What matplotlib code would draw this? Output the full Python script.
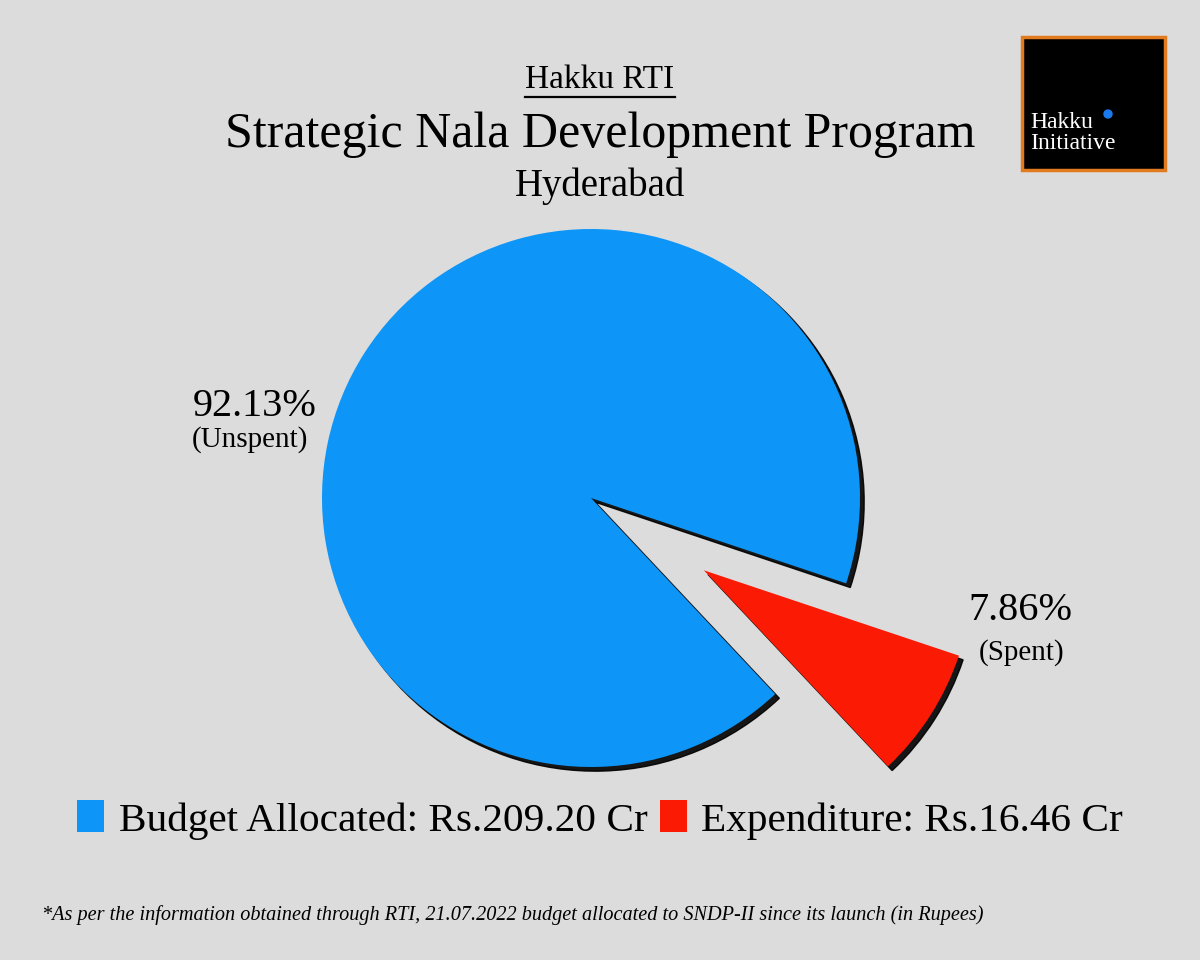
import matplotlib.pyplot as plt
from matplotlib.patches import Rectangle, Circle
from matplotlib.lines import Line2D

# Shares of the SNDP budget (percent) and legend amounts
shares = [92.13, 7.86]
share_notes = ["(Unspent)", "(Spent)"]
legend_labels = ["Budget Allocated: Rs.209.20 Cr", "Expenditure: Rs.16.46 Cr"]
colors = ["#0d95f7", "#fb1a04"]

plt.rcParams['font.family'] = ['Liberation Serif', 'DejaVu Serif']

fig = plt.figure(figsize=(12, 9.6), dpi=100)
fig.patch.set_facecolor("#dcdcdc")
ax = fig.add_axes([0, 0, 1, 1])
ax.set_facecolor("#dcdcdc")

# Pie drawn in pixel-like units (y up)
wedges, _ = ax.pie(shares, colors=colors, startangle=-18.5, counterclock=True,
                   explode=[0, 134], radius=269, center=(591, 462),
                   shadow={'ox': 3, 'oy': -3, 'shade': 1.0, 'alpha': 0.9})
ax.set_xlim(0, 1200)
ax.set_ylim(0, 960)
ax.set_aspect('equal')
ax.axis('off')

# Slice labels
ax.text(255, 960 - 407, f"{shares[0]:.2f}%", fontsize=29, ha='center', va='center')
ax.text(250, 960 - 440, share_notes[0], fontsize=21, ha='center', va='center')
ax.text(1020, 960 - 610, f"{shares[1]:.2f}%", fontsize=29, ha='center', va='center')
ax.text(1022, 960 - 653, share_notes[1], fontsize=21, ha='center', va='center')

# Titles
t = fig.text(0.5, 1 - 80 / 960, "Hakku RTI", fontsize=24, ha='center', va='center')
fig.text(0.5, 1 - 135 / 960, "Strategic Nala Development Program", fontsize=36,
         ha='center', va='center')
fig.text(0.5, 1 - 186 / 960, "Hyderabad", fontsize=28, ha='center', va='center')

# Underline for "Hakku RTI"
fig.canvas.draw()
bb = t.get_window_extent()
fig.add_artist(Line2D([bb.x0 / 1200, bb.x1 / 1200], [1 - 97 / 960, 1 - 97 / 960],
                      color='black', lw=1.6))

# Logo box
ax.add_patch(Rectangle((1022, 960 - 170), 143, 133, facecolor='black',
                       edgecolor='#e27b1f', lw=2.5))
ax.text(1030, 960 - 128, "Hakku", color='white', fontsize=17, ha='left', va='baseline')
ax.text(1030, 960 - 149, "Initiative", color='white', fontsize=17, ha='left', va='baseline')
ax.add_patch(Circle((1108, 960 - 114), 4, color='#1a7af0'))

# Legend
ax.legend(wedges, legend_labels, loc='center', bbox_to_anchor=(0.5, 1 - 820 / 960),
          ncol=2, frameon=False, fontsize=29.7, handlelength=0.65, handleheight=0.8,
          handletextpad=0.35, columnspacing=0.3)

# Footnote
fig.text(42 / 1200, 1 - 915 / 960,
         "*As per the information obtained through RTI, 21.07.2022 budget allocated "
         "to SNDP-II since its launch (in Rupees)",
         fontsize=14.6, style='italic', ha='left', va='center')

fig.savefig("out.png", dpi=100, facecolor=fig.get_facecolor())
